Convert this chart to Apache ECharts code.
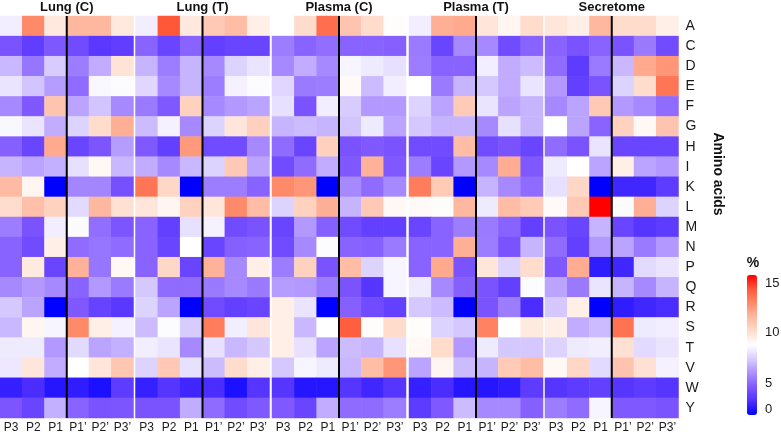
<!DOCTYPE html>
<html>
<head>
<meta charset="utf-8">
<script src="https://cdn.jsdelivr.net/npm/echarts@6/dist/echarts.min.js"></script>
<style>
  html, body { margin: 0; padding: 0; background: #fff; }
  #chart { width: 781px; height: 439px; }
</style>
</head>
<body>
<div id="chart"></div>
<script>
// categories
const groups = ['Lung (C)', 'Lung (T)', 'Plasma (C)', 'Plasma (T)', 'Secretome'];
const positions = ['P3', 'P2', 'P1', 'P1’', 'P2’', 'P3’'];
const aminoAcids = ['A', 'C', 'D', 'E', 'F', 'G', 'H', 'I', 'K', 'L', 'M', 'N', 'P', 'Q', 'R', 'S', 'T', 'V', 'W', 'Y'];

// % values, one row per amino acid, columns P3..P3'
const lungC = [
  [7, 12, 8.5, 10.5, 10.5, 8.5], [2.8, 2, 3, 2.5, 1.8, 2], [5.5, 3.8, 6, 4, 5.2, 8.7],
  [6.7, 5.8, 4.8, 3.5, 7.3, 7.4], [4.3, 3, 10, 5, 5.8, 4.3], [7.3, 6.7, 5.2, 6.2, 9, 10.8],
  [3.2, 2.3, 11, 2.3, 2.9, 4.8], [5.4, 5, 5.3, 6.6, 7.8, 5.5], [10.4, 7.9, 0, 4.2, 4.2, 2.7],
  [9, 10.2, 9.4, 6.4, 10.5, 8.8], [4, 2.8, 7, 7.4, 3.6, 2.9], [3.3, 2.5, 8.2, 3.5, 3.8, 3.5],
  [3.3, 8.4, 2.3, 10.7, 3.8, 7.8], [4.3, 4.7, 4.3, 3.3, 4.7, 3.9], [5.9, 5, 0, 3, 2.2, 1.8],
  [5.5, 7.9, 7.2, 12, 8.2, 7.1], [6.9, 6.9, 4.7, 6.4, 5, 5.3], [6.8, 8.6, 5.2, 7.5, 8.6, 9.9],
  [1, 1.4, 0.7, 0.9, 0.5, 1.9], [2.9, 2.3, 5.3, 3.3, 2.8, 2.9]
];
const lungT = [
  [7, 13.5, 8.5, 9.8, 10.3, 8.2], [3.3, 2.3, 3.3, 2.1, 2.3, 2.3], [5.4, 4, 5.4, 4.3, 6.2, 6.7],
  [6.3, 4.3, 5.4, 4, 7.1, 7.4], [3.9, 3, 9.4, 4.3, 4.7, 5], [5.6, 7.1, 4.3, 6.2, 8.6, 9.5],
  [3, 2.1, 11.5, 2.5, 2.5, 4.3], [5.2, 4.3, 5.5, 6.2, 9.8, 5], [12.6, 9.2, 0, 4, 4, 3.3],
  [8.6, 7.9, 9.4, 8.6, 12, 10.3], [3.3, 2.1, 6.6, 7.1, 2.5, 2.8], [3.3, 2.3, 7.5, 2.3, 3.2, 3.3],
  [3.3, 9.2, 2.3, 10.7, 4.3, 8.2], [5.9, 3.5, 3.5, 3.9, 4.3, 3.9], [6.2, 5, 0, 2.5, 2.1, 2.3],
  [5.6, 7.4, 6, 12.4, 7, 8.6], [7, 6.7, 4.3, 6.6, 5.5, 5.9], [6.2, 9.8, 6.6, 5.6, 9, 8.2],
  [1, 1.7, 1.2, 1.4, 0.5, 1.7], [2.8, 2.8, 5.2, 3.5, 2.5, 3]
];
const plasmaC = [
  [7.5, 9, 12.8, 10, 9, 7.6], [4, 3.3, 3.6, 3.3, 3.3, 3.2], [4.3, 5.2, 4.3, 7.2, 6.9, 6.6],
  [6.3, 3.9, 4, 7.7, 5.6, 7], [6.6, 2.8, 7, 6, 4.7, 4.7], [5.4, 5.6, 5.4, 5.8, 6.9, 5],
  [3.5, 2.3, 9.5, 2.8, 3, 2.8], [2.5, 3.5, 5.2, 3, 10.7, 3], [12, 11.6, 0, 4.3, 3.5, 4.3],
  [6.2, 9.4, 10.8, 5.4, 9.8, 7.8], [2.3, 4.7, 3.2, 2.5, 2.1, 2.1], [2.5, 4.3, 7.4, 3.3, 3.2, 3.9],
  [4, 9.4, 2.8, 10.3, 6.2, 7.2], [4.8, 4.7, 4, 2.8, 1.7, 7.2], [8.2, 6.7, 0, 3.2, 2.5, 2.1],
  [8.2, 5.5, 7.5, 13.3, 7.6, 9], [8.2, 6.6, 5, 5.6, 5.4, 6.6], [5.9, 7.2, 6.9, 5.5, 10.3, 11.6],
  [1.7, 0.7, 0.7, 1.7, 1.2, 1.7], [3, 2.3, 5.2, 3.5, 3.5, 4]
];
const plasmaT = [
  [7, 10.8, 11, 8.6, 7.9, 9], [3.9, 2.3, 4.3, 4.3, 2.5, 3.3], [4, 3.3, 3.3, 7, 5.2, 5.6],
  [7.5, 3.9, 5.4, 5.9, 5.2, 6.7], [6.2, 5, 9.7, 6.7, 5, 5.4], [5.9, 5.4, 5.4, 4.3, 6.6, 5.4],
  [2.5, 2.5, 10.3, 2.5, 2.8, 2.3], [4, 2.3, 4.7, 4.3, 10.9, 3], [12.4, 9.7, 0, 5.4, 4.3, 3.5],
  [7.7, 7.6, 10.5, 6.9, 10.3, 9.7], [2.3, 3.3, 4, 3.9, 3.3, 2.1], [3.3, 3.3, 10.8, 4, 2.8, 5.4],
  [3.3, 11, 2.8, 8.6, 6.2, 9], [6.9, 4.3, 3.2, 2.8, 2.1, 7.4], [5.9, 5.6, 0, 2.8, 4, 1.4],
  [7.6, 6.2, 5.9, 12.2, 7.5, 8.4], [7.8, 9, 4.7, 6.9, 5.9, 5.9], [5, 7.9, 5.6, 5.4, 9.7, 10.3],
  [1, 1.4, 0.7, 0.7, 0.9, 1.9], [1.9, 3, 5.6, 4.3, 4.3, 3.2]
];
const secretome = [
  [8.6, 8.2, 10.5, 9, 9, 8.2], [3.3, 2.8, 3.3, 2.8, 3.9, 2.5], [3.5, 1.9, 3.9, 5.5, 11, 11.6],
  [4.7, 2.1, 2.8, 6.2, 9, 12.6], [4.3, 5, 9.8, 4.7, 4.3, 3.5], [7.5, 5, 3.3, 9.4, 7.8, 10],
  [3.5, 2.8, 6.7, 2.3, 2.3, 2.3], [6.9, 7.5, 5, 8.2, 5, 4.7], [6.6, 9.2, 0, 1.2, 1.2, 1.9],
  [7.7, 9.8, 15.2, 7.4, 10.8, 6.2], [2.8, 2.3, 5.4, 2.3, 1.7, 1.9], [3.5, 2.1, 4.7, 5, 3.9, 4.7],
  [3, 10.9, 0.9, 1.2, 6.4, 6.7], [5, 3.9, 6.7, 5.4, 4.3, 5.4], [5.9, 8.2, 0, 0.9, 1.2, 1.4],
  [8.2, 5.2, 5.6, 12.7, 6.9, 7], [6.2, 6.9, 7, 8.8, 6.4, 6.7], [7.8, 9.2, 6.4, 10, 8.8, 7.1],
  [1.7, 1.9, 2.1, 1.7, 1.9, 1.7], [4, 3.5, 7.2, 3, 3, 2.8]
];
const groupData = [lungC, lungT, plasmaC, plasmaT, secretome];

// colour scale
const scaleMin = 0;
const scaleMax = 15;
const legendTicks = ['15', '10', '5', '0'];
const legendTickY = [283, 332, 383, 409];

// layout
const gridLeft = [0, 135.5, 272, 409, 545];
const gridWidth = [133.5, 134, 134, 134, 133.5];
const gridTop = 16;
const gridHeight = 402;
const font = 'Liberation Sans, Arial, sans-serif';

const chart = echarts.init(document.getElementById('chart'));

const grid = [], xAxis = [], yAxis = [], series = [], graphic = [];

groups.forEach((name, g) => {
  grid.push({ left: gridLeft[g], top: gridTop, width: gridWidth[g], height: gridHeight });

  // category axes for the cells
  xAxis.push({
    type: 'category', gridIndex: g, data: positions, position: 'bottom',
    axisLine: { show: false }, axisTick: { show: false }, splitLine: { show: false },
    axisLabel: { color: '#1a1a1a', fontSize: 12, fontFamily: font, margin: 4, interval: 0 }
  });
  yAxis.push({
    type: 'category', gridIndex: g, data: aminoAcids, inverse: true,
    position: 'right',
    axisLine: { show: false }, axisTick: { show: false }, splitLine: { show: false },
    axisLabel: { show: g === groups.length - 1, color: '#1a1a1a', fontSize: 14, fontFamily: font, margin: 7 }
  });
  // hidden value axes for the P1 | P1' divider
  xAxis.push({ type: 'value', gridIndex: g, min: 0, max: positions.length, show: false });
  yAxis.push({ type: 'value', gridIndex: g, min: 0, max: 1, show: false });

  const cells = [];
  groupData[g].forEach((row, r) => {
    row.forEach((v, c) => cells.push([c, r, v]));
  });

  series.push({
    type: 'heatmap', name: name,
    xAxisIndex: 2 * g, yAxisIndex: 2 * g,
    data: cells,
    emphasis: { disabled: true },
    silent: true
  });
  series.push({
    type: 'line',
    xAxisIndex: 2 * g + 1, yAxisIndex: 2 * g + 1,
    data: [[3, 0], [3, 1]],
    showSymbol: false, silent: true, z: 10,
    lineStyle: { color: '#000', width: 2 }
  });

  graphic.push({
    type: 'text', x: gridLeft[g] + gridWidth[g] / 2, y: 7,
    style: { text: name, fill: '#111', font: 'bold 13px ' + font, textAlign: 'center', textVerticalAlign: 'middle', align: 'center', verticalAlign: 'middle' }
  });
});

// axis title + legend labels
graphic.push({
  type: 'text', x: 718, y: 174, rotation: -Math.PI / 2,
  style: { text: 'Amino acids', fill: '#111', font: 'bold 14px ' + font, textAlign: 'center', textVerticalAlign: 'middle', align: 'center', verticalAlign: 'middle' }
});
graphic.push({
  type: 'text', x: 753, y: 263,
  style: { text: '%', fill: '#111', font: 'bold 14px ' + font, textAlign: 'center', textVerticalAlign: 'middle', align: 'center', verticalAlign: 'middle' }
});
legendTicks.forEach((t, i) => {
  graphic.push({
    type: 'text', x: 765, y: legendTickY[i],
    style: { text: t, fill: '#1a1a1a', font: '13px ' + font, textAlign: 'left', textVerticalAlign: 'middle', align: 'left', verticalAlign: 'middle' }
  });
});

chart.setOption({
  backgroundColor: '#fff',
  animation: false,
  grid: grid,
  xAxis: xAxis,
  yAxis: yAxis,
  visualMap: {
    type: 'continuous',
    min: scaleMin, max: scaleMax,
    seriesIndex: [0, 2, 4, 6, 8],
    orient: 'vertical',
    left: 747, top: 275,
    itemWidth: 10, itemHeight: 140,
    padding: 0,
    calculable: false,
    hoverLink: false,
    inRange: {
      color: ['#0000ff', '#5030ff', '#8058ff', '#ac90ff', '#d8ccff', '#ffffff',
              '#ffdccc', '#ffb8a0', '#ff8a6a', '#ff5838', '#ff0000']
    }
  },
  graphic: graphic,
  series: series
});
</script>
</body>
</html>
